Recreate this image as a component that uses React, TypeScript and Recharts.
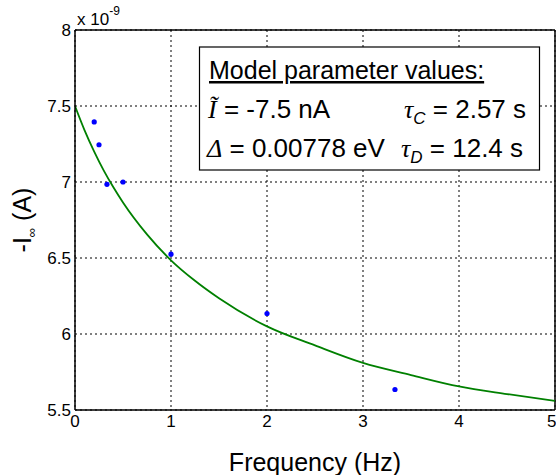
import React from "react";
import {
  ComposedChart,
  Line,
  Scatter,
  XAxis,
  YAxis,
  CartesianGrid,
  ReferenceLine,
} from "recharts";

// measured points, current in units of 1e-9 A
const measured = [
  { f: 0.2, i: 7.395 },
  { f: 0.25, i: 7.245 },
  { f: 0.333, i: 6.985 },
  { f: 0.5, i: 7.0 },
  { f: 1, i: 6.525 },
  { f: 2, i: 6.135 },
  { f: 3.333, i: 5.635 },
];

// model curve
const model = [
  { f: 0, i: 7.5 },
  { f: 0.1, i: 7.34 },
  { f: 0.2, i: 7.2 },
  { f: 0.3, i: 7.075 },
  { f: 0.4, i: 6.965 },
  { f: 0.5, i: 6.865 },
  { f: 0.75, i: 6.655 },
  { f: 1, i: 6.485 },
  { f: 1.25, i: 6.35 },
  { f: 1.5, i: 6.235 },
  { f: 2, i: 6.05 },
  { f: 2.5, i: 5.925 },
  { f: 3, i: 5.81 },
  { f: 3.5, i: 5.73 },
  { f: 4, i: 5.655 },
  { f: 4.5, i: 5.605 },
  { f: 5, i: 5.56 },
];

const xTicks = [0, 1, 2, 3, 4, 5];
const yTicks = [5.5, 6, 6.5, 7, 7.5, 8];

const sans = "'Liberation Sans', Arial, sans-serif";
const serif = "'Liberation Serif', 'Times New Roman', serif";

const Dot = (props: any) => (
  <circle cx={props.cx} cy={props.cy} r={2.6} fill="#0000ff" />
);

const YLabel = (props: any) => {
  const vb = props.viewBox;
  const cx = 31;
  const cy = vb.y + vb.height / 2;
  return (
    <text
      x={cx}
      y={cy}
      transform={`rotate(-90 ${cx} ${cy})`}
      textAnchor="middle"
      fontFamily={sans}
      fontSize={25}
      fill="#000"
    >
      -I
      <tspan fontSize={13} dy={5}>∞</tspan>
      <tspan dy={-5}> (A)</tspan>
    </text>
  );
};

const XLabel = (props: any) => {
  const vb = props.viewBox;
  return (
    <text
      x={vb.x + vb.width / 2}
      y={vb.y + 61}
      textAnchor="middle"
      fontFamily={sans}
      fontSize={25}
      fill="#000"
    >
      Frequency (Hz)
    </text>
  );
};

export default function App() {
  return (
    <div style={{ position: "absolute", left: 0, top: 0, width: 556, height: 475, background: "#fff" }}>
      <ComposedChart
        width={556}
        height={475}
        margin={{ top: 30, right: 1, bottom: 35, left: 15 }}
      >
        <CartesianGrid stroke="#000" strokeDasharray="2 3" />
        <XAxis
          dataKey="f"
          type="number"
          domain={[0, 5]}
          ticks={xTicks}
          allowDataOverflow
          height={30}
          tickSize={0}
          tickMargin={5}
          tickLine={false}
          axisLine={{ stroke: "#000", strokeWidth: 1.5 }}
          tick={{ fill: "#000", fontSize: 17, fontFamily: sans }}
          label={<XLabel />}
        />
        <YAxis
          type="number"
          domain={[5.5, 8]}
          ticks={yTicks}
          allowDataOverflow
          width={60}
          tickSize={0}
          tickMargin={4}
          tickLine={false}
          axisLine={{ stroke: "#000", strokeWidth: 1.5 }}
          tick={{ fill: "#000", fontSize: 17, fontFamily: sans }}
          label={<YLabel />}
        />
        <ReferenceLine y={8} stroke="#000" strokeWidth={1.5} />
        <ReferenceLine x={5} stroke="#000" strokeWidth={1.5} />
        <Line
          data={model}
          dataKey="i"
          type="monotone"
          stroke="#008000"
          strokeWidth={1.8}
          dot={false}
          isAnimationActive={false}
        />
        <Scatter
          data={measured}
          dataKey="i"
          shape={<Dot />}
          isAnimationActive={false}
        />
      </ComposedChart>
      <svg
        width={556}
        height={475}
        style={{ position: "absolute", left: 0, top: 0, pointerEvents: "none" }}
      >
        <text x={77} y={25} fontFamily={sans} fontSize={17} fill="#000">
          x 10
          <tspan fontSize={12} dy={-10}>-9</tspan>
        </text>
        <rect x={199.5} y={47} width={340} height={123} fill="#fff" stroke="#000" strokeWidth={1.2} />
        <text x={209} y={79} fontFamily={sans} fontSize={25} fill="#000" textDecoration="underline">
          Model parameter values:
        </text>
        <text x={208} y={118} fontFamily={sans} fontSize={26} fill="#000">
          <tspan fontFamily={serif} fontStyle="italic">Ĩ</tspan>
          <tspan> = -7.5 nA</tspan>
        </text>
        <text x={207} y={157} fontFamily={sans} fontSize={26} fill="#000">
          <tspan fontFamily={serif} fontStyle="italic">Δ</tspan>
          <tspan> = 0.00778 eV</tspan>
        </text>
        <text x={404} y={118} fontFamily={sans} fontSize={26} fill="#000">
          <tspan fontFamily={serif} fontStyle="italic">τ</tspan>
          <tspan fontSize={17} fontStyle="italic" dy={6}>C</tspan>
          <tspan dy={-6}> = 2.57 s</tspan>
        </text>
        <text x={401} y={157} fontFamily={sans} fontSize={26} fill="#000">
          <tspan fontFamily={serif} fontStyle="italic">τ</tspan>
          <tspan fontSize={17} fontStyle="italic" dy={6}>D</tspan>
          <tspan dy={-6}> = 12.4 s</tspan>
        </text>
      </svg>
    </div>
  );
}
